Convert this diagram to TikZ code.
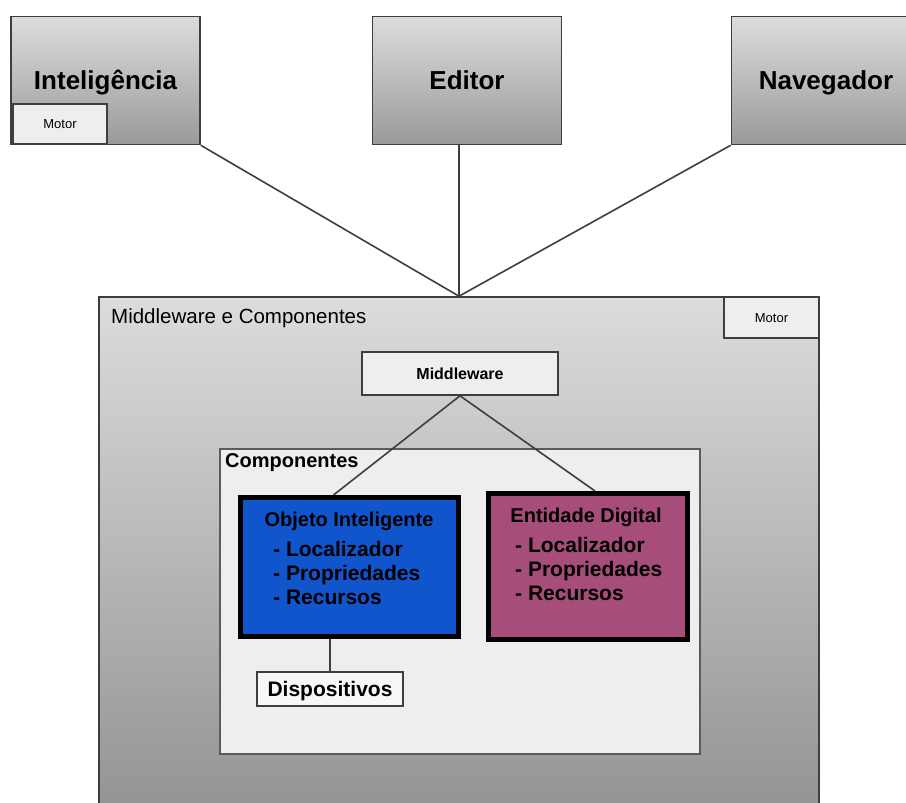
\documentclass[tikz,border=0pt]{standalone}
\usepackage{fontspec}
\setmainfont{Liberation Sans}
\definecolor{edgegray}{HTML}{3E3E3E}
\definecolor{lightfill}{HTML}{EEEEEE}
\definecolor{objblue}{HTML}{1155CC}
\definecolor{entmauve}{HTML}{A64D79}
\definecolor{gtop}{HTML}{DCDCDC}
\definecolor{gbot}{HTML}{9A9A9A}
\tikzset{
  topbox/.style={draw=edgegray, line width=1.6pt, top color=gtop, bottom color=gbot,
    minimum width=189, minimum height=128, inner sep=0pt,
    font=\fontsize{26}{30}\selectfont\bfseries, text height=18.6pt, text depth=0pt},
  motorbox/.style={draw=edgegray, line width=1.6pt, fill=lightfill, inner sep=0pt,
    font=\fontsize{13}{15}\selectfont, text height=9.3pt, text depth=0pt},
  conn/.style={draw=edgegray, line width=1.6pt},
  colbox/.style={draw=black, line width=5pt, inner sep=0pt},
  boxtitle/.style={anchor=base, inner sep=0pt, font=\fontsize{20}{24}\selectfont\bfseries},
  boxitem/.style={anchor=base west, inner sep=0pt, font=\fontsize{21}{24}\selectfont\bfseries}
}
\begin{document}
\begin{tikzpicture}[x=1pt,y=-1pt]
\useasboundingbox (0,0) rectangle (906,803);
\clip (0,0) rectangle (906,803);
% top boxes
\node[topbox] (intel) at (105.5,80.5) {Inteligência};
\node[motorbox, minimum width=94, minimum height=40] (motor1) at (60,124) {Motor};
\node[topbox] (editor) at (467,80.5) {Editor};
\node[topbox] (nav) at (826,80.5) {Navegador};
% big box
\node[draw=edgegray, line width=1.6pt, top color=gtop, bottom color=gbot!95!black,
      minimum width=720, minimum height=520, inner sep=0pt] (mc) at (459,557) {};
\node[anchor=base west, inner sep=0pt, font=\fontsize{20.5}{24}\selectfont] (mclabel) at (111,323) {Middleware e Componentes};
\node[motorbox, minimum width=95, minimum height=41] (motor2) at (771.5,317.5) {Motor};
\coordinate (conv) at (mc.north);
% connectors top
\draw[conn] (intel.south east) -- (conv);
\draw[conn] (editor.south -| conv) -- (conv);
\draw[conn] (nav.south west) -- (conv);
% middleware
\node[motorbox, minimum width=196, minimum height=43, font=\fontsize{16}{19}\selectfont\bfseries, text height=11.5pt] (mw) at (460,373.5) {Middleware};
% components box
\node[draw=edgegray!85, line width=1.6pt, fill=lightfill, minimum width=480, minimum height=305, inner sep=0pt] (comp) at (460,601.5) {};
\node[anchor=base west, inner sep=0pt, font=\fontsize{20}{24}\selectfont\bfseries] (complabel) at (225,467) {Componentes};
% objeto inteligente
\node[colbox, fill=objblue, minimum width=218, minimum height=139] (obj) at (349.5,567) {};
\node[boxtitle] (objt) at (349,526) {Objeto Inteligente};
\node[boxitem] (obj1) at (273,556) {- Localizador};
\node[boxitem] (obj2) at (273,580) {- Propriedades};
\node[boxitem] (obj3) at (273,604) {- Recursos};
% entidade digital
\node[colbox, fill=entmauve, minimum width=199, minimum height=146] (ent) at (588,566.5) {};
\node[boxtitle] (entt) at (586,522) {Entidade Digital};
\node[boxitem] (ent1) at (515,552) {- Localizador};
\node[boxitem] (ent2) at (515,576) {- Propriedades};
\node[boxitem] (ent3) at (515,600) {- Recursos};
% dispositivos
\node[draw=edgegray, line width=1.6pt, fill=white!97!black, minimum width=146, minimum height=34, inner sep=0pt,
      font=\fontsize{21}{24}\selectfont\bfseries, text height=15pt, text depth=0pt] (disp) at (330,689) {Dispositivos};
% connectors middle
\draw[conn] (mw.south) -- ([xshift=-16pt]obj.north);
\draw[conn] (mw.south) -- ([xshift=7pt]ent.north);
\draw[conn] (disp.north |- obj.south) -- (disp.north);
\end{tikzpicture}
\end{document}
